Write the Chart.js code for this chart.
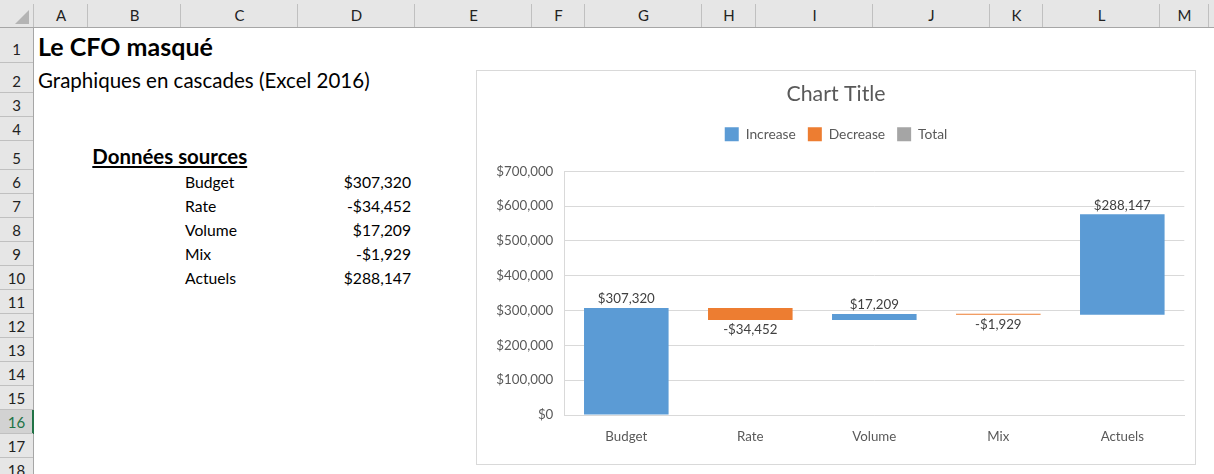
<!DOCTYPE html>
<html lang="fr">
<head>
<meta charset="utf-8">
<title>Le CFO masqué - Graphiques en cascades</title>
<script src="https://cdn.jsdelivr.net/npm/chart.js@4.4.1/dist/chart.umd.min.js"></script>
<style>
    html, body { margin: 0; padding: 0; }
    body {
        position: relative;
        width: 1214px;
        height: 474px;
        overflow: hidden;
        background: #ffffff;
        font-family: Lato, 'Open Sans', sans-serif;
    }
    .box { position: absolute; }
    .txt { position: absolute; white-space: nowrap; line-height: 1; }
    #chart-box {
        position: absolute;
        left: 476px;
        top: 70px;
        width: 720px;
        height: 395px;
        box-sizing: border-box;
        border: 1px solid #d9d9d9;
        background: #ffffff;
    }
    #chart-box canvas { position: absolute; left: 0; top: 0; }
</style>
</head>
<body>
<div id="chart-box"><canvas id="waterfall-chart" width="718" height="393"></canvas></div>
<script>
// Source data (sheet rows 6-10, drawn again in the chart)
const categories = ['Budget', 'Rate', 'Volume', 'Mix', 'Actuels'];
const changes = [307320, -34452, 17209, -1929, 288147];
const totalValues = [null, null, null, null, null];   // no point was set as total
const seriesNames = ['Increase', 'Decrease', 'Total'];
const yTicks = [0, 100000, 200000, 300000, 400000, 500000, 600000, 700000];

// Sheet texts
const sheetTitle = 'Le CFO masqué';
const sheetSubtitle = 'Graphiques en cascades (Excel 2016)';
const tableHeading = 'Données sources';
const columnLetters = ['A', 'B', 'C', 'D', 'E', 'F', 'G', 'H', 'I', 'J', 'K', 'L', 'M', 'N'];

// Sheet layout (pixel edges of the visible columns / rows)
const columnEdges = [34, 88, 181, 298, 415, 532, 585, 702, 756, 873, 990, 1043, 1160, 1209, 1300];
const rowEdges = [27, 63, 93, 117, 141, 170, 194, 218, 242, 266, 290, 314, 338, 362, 386, 410, 434, 458, 482];
const selectedRow = 16;

const LATO_CAP_MID = 0.529;   // cap centre below box top, in em (line-height 1)

function formatMoney(v) {
    return (v < 0 ? '-' : '') + '$' + Math.abs(v).toLocaleString('en-US');
}

function addBox(left, top, width, height, color) {
    const el = document.createElement('div');
    el.className = 'box';
    el.style.left = left + 'px';
    el.style.top = top + 'px';
    el.style.width = width + 'px';
    el.style.height = height + 'px';
    el.style.background = color;
    document.body.appendChild(el);
    return el;
}

/**
 * Put a text on the sheet; size is either given or fitted to a width
 */
function placeText(text, opts) {
    const el = document.createElement('span');
    el.className = 'txt';
    el.textContent = text;
    el.style.fontWeight = opts.bold ? '700' : '400';
    el.style.color = opts.color || '#000000';
    if (opts.underline) el.style.textDecoration = 'underline';
    el.style.fontSize = '20px';
    document.body.appendChild(el);

    let size = opts.size;
    if (!size) {
        size = 20 * opts.width / el.getBoundingClientRect().width;
    }
    el.style.fontSize = size + 'px';
    const w = el.getBoundingClientRect().width;

    let left = opts.x;
    if (opts.align === 'right') left = opts.x - w;
    if (opts.align === 'center') left = opts.x - w / 2;
    el.style.left = left + 'px';
    el.style.top = (opts.cy - LATO_CAP_MID * size) + 'px';
    return el;
}

/**
 * Draw the Excel frame: column and row headers
 */
function drawSheet() {
    // header strips
    addBox(0, 0, 1214, 27, '#e6e6e6');
    addBox(0, 27, 33, 474 - 27, '#e6e6e6');
    addBox(0, 27, 1214, 1, '#a6a6a6');
    addBox(33, 27, 1, 474 - 27, '#a6a6a6');

    // corner triangle
    const tri = addBox(15, 10, 14, 14, '#b4b4b4');
    tri.style.clipPath = 'polygon(100% 0, 100% 100%, 0 100%)';

    // column headers
    addBox(33, 4, 1, 23, '#c0c0c0');
    columnLetters.forEach((letter, i) => {
        const left = columnEdges[i];
        const right = columnEdges[i + 1];
        addBox(right - 1, 4, 1, 23, '#c0c0c0');
        placeText(letter, { x: (left + right) / 2, cy: 15.5, align: 'center', size: 15, color: '#222222' });
    });

    // row headers
    for (let r = 0; r < rowEdges.length - 1; r++) {
        const top = rowEdges[r];
        const bottom = rowEdges[r + 1];
        const rowNum = r + 1;
        if (rowNum === selectedRow) {
            addBox(0, top, 33, bottom - top, '#d2d2d2');
            addBox(32, top, 2, bottom - top, '#217346');
        }
        addBox(0, bottom - 1, 33, 1, '#c0c0c0');
        placeText(String(rowNum), {
            x: 16.5,
            cy: bottom - (rowNum === 1 ? 13.3 : 11.4),
            align: 'center',
            size: 15,
            color: rowNum === selectedRow ? '#217346' : '#222222'
        });
    }
}

/**
 * Cell contents: titles and the source table
 */
function drawCells() {
    placeText(sheetTitle, { x: 38, cy: 47.2, width: 175, bold: true });
    placeText(sheetSubtitle, { x: 38, cy: 80.6, width: 332 });
    placeText(tableHeading, { x: 92.3, cy: 157, width: 155, bold: true, underline: true });

    const labelSize = 15.7;
    categories.forEach((name, i) => {
        const cy = 183.3 + 24 * i;
        placeText(name, { x: 185, cy, size: labelSize });
        placeText(formatMoney(changes[i]), { x: 411, cy, align: 'right', size: labelSize });
    });
}

/**
 * Floating bars for the waterfall
 */
function buildWaterfall(values) {
    const up = [];
    const down = [];
    let level = 0;
    values.forEach(v => {
        const from = level;
        level += v;
        up.push(v >= 0 ? [from, level] : null);
        down.push(v < 0 ? [from, level] : null);
    });
    return { up, down };
}

// Value labels above increases, below decreases
const valueLabels = {
    id: 'valueLabels',
    afterDatasetsDraw(chart) {
        const ctx = chart.ctx;
        ctx.save();
        ctx.font = '13.3px Lato';
        ctx.fillStyle = '#404040';
        ctx.textAlign = 'center';
        ctx.textBaseline = 'middle';
        chart.data.datasets.forEach((ds, di) => {
            const meta = chart.getDatasetMeta(di);
            meta.data.forEach((bar, i) => {
                if (!ds.data[i]) return;
                const v = changes[i];
                const top = Math.min(bar.y, bar.base);
                const bottom = Math.max(bar.y, bar.base);
                const y = v >= 0 ? top - 9 : bottom + 10;
                ctx.fillText(formatMoney(v), bar.x, y);
            });
        });
        ctx.restore();
    }
};

// Excel leaves a gap between legend and plot area
const legendGap = {
    id: 'legendGap',
    beforeInit(chart) {
        if (!chart.legend) return;
        const fit = chart.legend.fit;
        chart.legend.fit = function () {
            fit.call(this);
            this.height += 20;
        };
    }
};

function renderChart() {
    const canvas = document.getElementById('waterfall-chart');
    const bars = buildWaterfall(changes);

    Chart.defaults.font.family = 'Lato';
    Chart.defaults.color = '#595959';

    new Chart(canvas.getContext('2d'), {
        type: 'bar',
        data: {
            labels: categories,
            datasets: [
                {
                    label: seriesNames[0],
                    data: bars.up,
                    backgroundColor: '#5b9bd5',
                    grouped: false,
                    minBarLength: 1
                },
                {
                    label: seriesNames[1],
                    data: bars.down,
                    backgroundColor: '#ed7d31',
                    grouped: false,
                    minBarLength: 1
                },
                {
                    label: seriesNames[2],
                    data: totalValues,
                    backgroundColor: '#a5a5a5',
                    grouped: false
                }
            ]
        },
        options: {
            responsive: false,
            animation: false,
            barPercentage: 0.682,
            categoryPercentage: 1,
            layout: { padding: { left: 10.7, right: 10.7, top: 0, bottom: 0 } },
            plugins: {
                title: {
                    display: true,
                    text: 'Chart Title',
                    color: '#595959',
                    font: { size: 21.3, weight: 'normal' },
                    padding: { top: 10.3, bottom: 8.4 }
                },
                legend: {
                    display: true,
                    position: 'top',
                    labels: {
                        boxWidth: 14,
                        boxHeight: 14,
                        padding: 12,
                        color: '#595959',
                        font: { size: 13.8 }
                    }
                },
                tooltip: { enabled: false }
            },
            scales: {
                x: {
                    grid: { display: false, drawTicks: false },
                    border: { display: true, color: '#d9d9d9' },
                    ticks: { color: '#595959', font: { size: 13.3 }, padding: 13.7 },
                    afterFit: scale => { scale.height = 49; }
                },
                y: {
                    min: yTicks[0],
                    max: yTicks[yTicks.length - 1],
                    afterBuildTicks: scale => { scale.ticks = yTicks.map(v => ({ value: v })); },
                    grid: { color: '#d9d9d9', drawTicks: false },
                    border: { display: true, color: '#d9d9d9' },
                    ticks: {
                        color: '#595959',
                        font: { size: 13.3 },
                        padding: 11,
                        callback: v => '$' + Number(v).toLocaleString('en-US')
                    },
                    afterFit: scale => { scale.width = 76.6; }
                }
            }
        },
        plugins: [valueLabels, legendGap]
    });
}

drawSheet();
drawCells();
renderChart();
</script>
</body>
</html>
